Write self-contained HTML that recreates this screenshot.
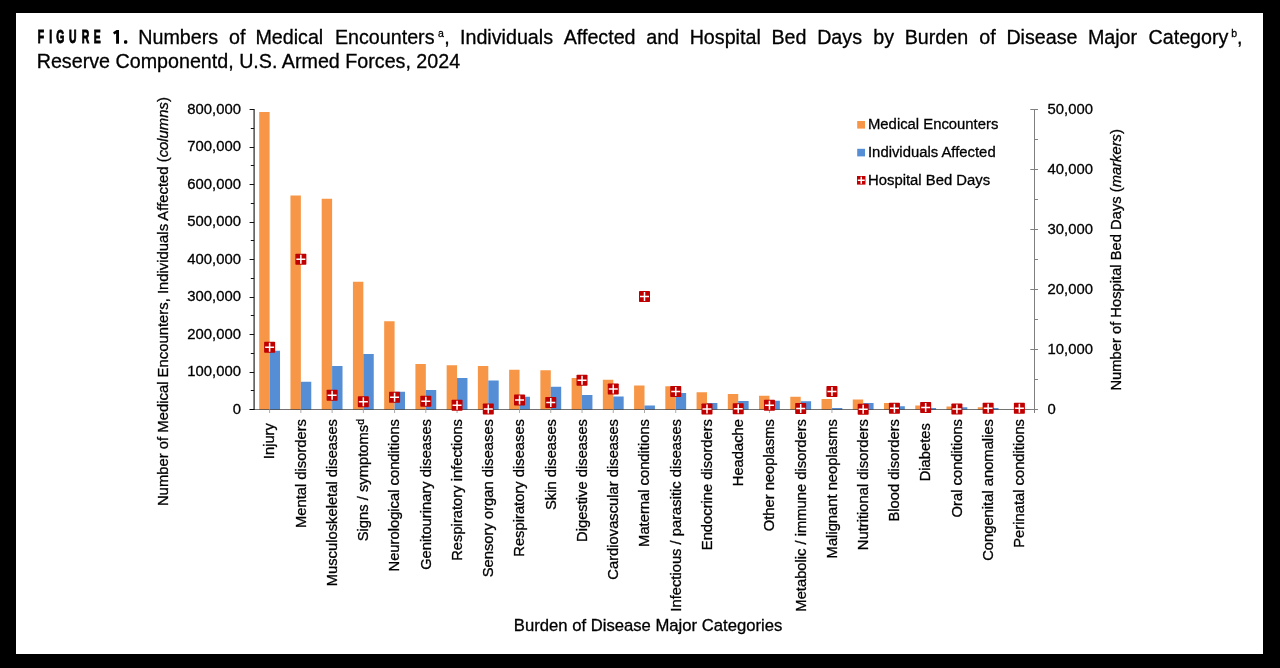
<!DOCTYPE html>
<html><head><meta charset="utf-8"><style>
html,body{margin:0;padding:0;}
body{width:1280px;height:668px;background:#000;position:relative;overflow:hidden;font-family:"Liberation Sans",sans-serif;}
#paper{position:absolute;left:16px;top:13px;width:1247px;height:641px;background:#fff;}
svg{position:absolute;left:0;top:0;will-change:transform;}
svg text{font-family:"Liberation Sans",sans-serif;fill:#000;stroke:#000;stroke-width:0.3px;}
.t{font-size:14.85px;}
.tt{font-size:19.7px;}
.sup{font-size:10.5px;}
.fig{font-size:18.2px;font-weight:bold;stroke:#000;stroke-width:1px;}
</style></head><body>
<div id="paper"></div>
<svg width="1280" height="668" viewBox="0 0 1280 668">
<text x='138.3' y='43.75' class='tt'>Numbers</text>
<text x='229.0' y='43.75' class='tt'>of</text>
<text x='255.4' y='43.75' class='tt'>Medical</text>
<text x='334.9' y='43.75' class='tt'>Encounters</text>
<text x='460.0' y='43.75' class='tt'>Individuals</text>
<text x='563.7' y='43.75' class='tt'>Affected</text>
<text x='646.2' y='43.75' class='tt'>and</text>
<text x='689.65' y='43.75' class='tt'>Hospital</text>
<text x='771.4' y='43.75' class='tt'>Bed</text>
<text x='817.15' y='43.75' class='tt'>Days</text>
<text x='873.2' y='43.75' class='tt'>by</text>
<text x='904.65' y='43.75' class='tt'>Burden</text>
<text x='979.2' y='43.75' class='tt'>of</text>
<text x='1006.4' y='43.75' class='tt'>Disease</text>
<text x='1087.9' y='43.75' class='tt'>Major</text>
<text x='1148.5' y='43.75' class='tt'>Category</text>
<text x='438' y='36.8' class='sup'>a</text>
<text x='444.2' y='43.75' class='tt'>,</text>
<text x='1231.2' y='36.9' class='sup'>b</text>
<text x='1237' y='43.75' class='tt'>,</text>
<text x='36.7' y='67.8' class='tt'>Reserve Componentd, U.S. Armed Forces, 2024</text>
<text transform='translate(37.70,43.25) scale(0.57,1)' class='fig'>F</text>
<text transform='translate(49.20,43.25) scale(0.57,1)' class='fig'>I</text>
<text transform='translate(56.37,43.25) scale(0.57,1)' class='fig'>G</text>
<text transform='translate(68.88,43.25) scale(0.57,1)' class='fig'>U</text>
<text transform='translate(81.80,43.25) scale(0.57,1)' class='fig'>R</text>
<text transform='translate(93.80,43.25) scale(0.57,1)' class='fig'>E</text>
<path d='M113.1 32.3L116.6 30.1H119V43.75H116.1V33.4L114.1 34.5Z' fill='#000'/>
<rect x='124' y='40.3' width='3.3' height='3.45' rx='1.2' fill='#000'/>
<rect x='259.21' y='112' width='10.41' height='297.5' fill='#F79646'/>
<rect x='269.62' y='350.75' width='10.41' height='58.75' fill='#558ED5'/>
<rect x='290.45' y='195.5' width='10.41' height='214' fill='#F79646'/>
<rect x='300.86' y='381.75' width='10.41' height='27.75' fill='#558ED5'/>
<rect x='321.69' y='198.75' width='10.41' height='210.75' fill='#F79646'/>
<rect x='332.1' y='366' width='10.41' height='43.5' fill='#558ED5'/>
<rect x='352.93' y='281.75' width='10.41' height='127.75' fill='#F79646'/>
<rect x='363.34' y='354' width='10.41' height='55.5' fill='#558ED5'/>
<rect x='384.17' y='321.25' width='10.41' height='88.25' fill='#F79646'/>
<rect x='394.58' y='391.75' width='10.41' height='17.75' fill='#558ED5'/>
<rect x='415.41' y='364' width='10.41' height='45.5' fill='#F79646'/>
<rect x='425.82' y='390' width='10.41' height='19.5' fill='#558ED5'/>
<rect x='446.65' y='365.25' width='10.41' height='44.25' fill='#F79646'/>
<rect x='457.06' y='378' width='10.41' height='31.5' fill='#558ED5'/>
<rect x='477.89' y='366' width='10.41' height='43.5' fill='#F79646'/>
<rect x='488.3' y='380.5' width='10.41' height='29' fill='#558ED5'/>
<rect x='509.13' y='369.75' width='10.41' height='39.75' fill='#F79646'/>
<rect x='519.54' y='396.75' width='10.41' height='12.75' fill='#558ED5'/>
<rect x='540.37' y='370.25' width='10.41' height='39.25' fill='#F79646'/>
<rect x='550.78' y='386.75' width='10.41' height='22.75' fill='#558ED5'/>
<rect x='571.61' y='378' width='10.41' height='31.5' fill='#F79646'/>
<rect x='582.02' y='395' width='10.41' height='14.5' fill='#558ED5'/>
<rect x='602.85' y='379.75' width='10.41' height='29.75' fill='#F79646'/>
<rect x='613.26' y='396.5' width='10.41' height='13' fill='#558ED5'/>
<rect x='634.09' y='385.5' width='10.41' height='24' fill='#F79646'/>
<rect x='644.5' y='405.5' width='10.41' height='4' fill='#558ED5'/>
<rect x='665.33' y='386.25' width='10.41' height='23.25' fill='#F79646'/>
<rect x='675.74' y='393' width='10.41' height='16.5' fill='#558ED5'/>
<rect x='696.57' y='392.25' width='10.41' height='17.25' fill='#F79646'/>
<rect x='706.98' y='403' width='10.41' height='6.5' fill='#558ED5'/>
<rect x='727.81' y='394' width='10.41' height='15.5' fill='#F79646'/>
<rect x='738.22' y='401' width='10.41' height='8.5' fill='#558ED5'/>
<rect x='759.05' y='395.75' width='10.41' height='13.75' fill='#F79646'/>
<rect x='769.46' y='400.75' width='10.41' height='8.75' fill='#558ED5'/>
<rect x='790.29' y='396.75' width='10.41' height='12.75' fill='#F79646'/>
<rect x='800.7' y='401.25' width='10.41' height='8.25' fill='#558ED5'/>
<rect x='821.53' y='399' width='10.41' height='10.5' fill='#F79646'/>
<rect x='831.94' y='408' width='10.41' height='1.5' fill='#558ED5'/>
<rect x='852.77' y='399.5' width='10.41' height='10' fill='#F79646'/>
<rect x='863.18' y='403' width='10.41' height='6.5' fill='#558ED5'/>
<rect x='884.01' y='403' width='10.41' height='6.5' fill='#F79646'/>
<rect x='894.42' y='406.25' width='10.41' height='3.25' fill='#558ED5'/>
<rect x='915.25' y='405.5' width='10.41' height='4' fill='#F79646'/>
<rect x='925.66' y='408' width='10.41' height='1.5' fill='#558ED5'/>
<rect x='946.49' y='406.5' width='10.41' height='3' fill='#F79646'/>
<rect x='956.9' y='407.25' width='10.41' height='2.25' fill='#558ED5'/>
<rect x='977.73' y='407.25' width='10.41' height='2.25' fill='#F79646'/>
<rect x='988.14' y='408' width='10.41' height='1.5' fill='#558ED5'/>
<line x1='254.1' y1='109' x2='254.1' y2='410' stroke='#333333' stroke-width='1.3'/>
<line x1='249.6' y1='109.5' x2='254.1' y2='109.5' stroke='#111' stroke-width='1'/>
<line x1='250.8' y1='128.5' x2='254.1' y2='128.5' stroke='#111' stroke-width='1'/>
<line x1='249.6' y1='147.5' x2='254.1' y2='147.5' stroke='#111' stroke-width='1'/>
<line x1='250.8' y1='165.5' x2='254.1' y2='165.5' stroke='#111' stroke-width='1'/>
<line x1='249.6' y1='184.5' x2='254.1' y2='184.5' stroke='#111' stroke-width='1'/>
<line x1='250.8' y1='203.5' x2='254.1' y2='203.5' stroke='#111' stroke-width='1'/>
<line x1='249.6' y1='222.5' x2='254.1' y2='222.5' stroke='#111' stroke-width='1'/>
<line x1='250.8' y1='240.5' x2='254.1' y2='240.5' stroke='#111' stroke-width='1'/>
<line x1='249.6' y1='259.5' x2='254.1' y2='259.5' stroke='#111' stroke-width='1'/>
<line x1='250.8' y1='278.5' x2='254.1' y2='278.5' stroke='#111' stroke-width='1'/>
<line x1='249.6' y1='297.5' x2='254.1' y2='297.5' stroke='#111' stroke-width='1'/>
<line x1='250.8' y1='315.5' x2='254.1' y2='315.5' stroke='#111' stroke-width='1'/>
<line x1='249.6' y1='334.5' x2='254.1' y2='334.5' stroke='#111' stroke-width='1'/>
<line x1='250.8' y1='353.5' x2='254.1' y2='353.5' stroke='#111' stroke-width='1'/>
<line x1='249.6' y1='372.5' x2='254.1' y2='372.5' stroke='#111' stroke-width='1'/>
<line x1='250.8' y1='390.5' x2='254.1' y2='390.5' stroke='#111' stroke-width='1'/>
<line x1='249.6' y1='409.5' x2='254.1' y2='409.5' stroke='#111' stroke-width='1'/>
<line x1='249.6' y1='409.5' x2='1034' y2='409.5' stroke='rgba(0,0,0,0.55)' stroke-width='1'/>
<line x1='269.62' y1='409.5' x2='269.62' y2='413' stroke='#aaa' stroke-width='1'/>
<line x1='300.86' y1='409.5' x2='300.86' y2='413' stroke='#aaa' stroke-width='1'/>
<line x1='332.1' y1='409.5' x2='332.1' y2='413' stroke='#aaa' stroke-width='1'/>
<line x1='363.34' y1='409.5' x2='363.34' y2='413' stroke='#aaa' stroke-width='1'/>
<line x1='394.58' y1='409.5' x2='394.58' y2='413' stroke='#aaa' stroke-width='1'/>
<line x1='425.82' y1='409.5' x2='425.82' y2='413' stroke='#aaa' stroke-width='1'/>
<line x1='457.06' y1='409.5' x2='457.06' y2='413' stroke='#aaa' stroke-width='1'/>
<line x1='488.3' y1='409.5' x2='488.3' y2='413' stroke='#aaa' stroke-width='1'/>
<line x1='519.54' y1='409.5' x2='519.54' y2='413' stroke='#aaa' stroke-width='1'/>
<line x1='550.78' y1='409.5' x2='550.78' y2='413' stroke='#aaa' stroke-width='1'/>
<line x1='582.02' y1='409.5' x2='582.02' y2='413' stroke='#aaa' stroke-width='1'/>
<line x1='613.26' y1='409.5' x2='613.26' y2='413' stroke='#aaa' stroke-width='1'/>
<line x1='644.5' y1='409.5' x2='644.5' y2='413' stroke='#aaa' stroke-width='1'/>
<line x1='675.74' y1='409.5' x2='675.74' y2='413' stroke='#aaa' stroke-width='1'/>
<line x1='706.98' y1='409.5' x2='706.98' y2='413' stroke='#aaa' stroke-width='1'/>
<line x1='738.22' y1='409.5' x2='738.22' y2='413' stroke='#aaa' stroke-width='1'/>
<line x1='769.46' y1='409.5' x2='769.46' y2='413' stroke='#aaa' stroke-width='1'/>
<line x1='800.7' y1='409.5' x2='800.7' y2='413' stroke='#aaa' stroke-width='1'/>
<line x1='831.94' y1='409.5' x2='831.94' y2='413' stroke='#aaa' stroke-width='1'/>
<line x1='863.18' y1='409.5' x2='863.18' y2='413' stroke='#aaa' stroke-width='1'/>
<line x1='894.42' y1='409.5' x2='894.42' y2='413' stroke='#aaa' stroke-width='1'/>
<line x1='925.66' y1='409.5' x2='925.66' y2='413' stroke='#aaa' stroke-width='1'/>
<line x1='956.9' y1='409.5' x2='956.9' y2='413' stroke='#aaa' stroke-width='1'/>
<line x1='988.14' y1='409.5' x2='988.14' y2='413' stroke='#aaa' stroke-width='1'/>
<line x1='1019.38' y1='409.5' x2='1019.38' y2='413' stroke='#aaa' stroke-width='1'/>
<line x1='1034.5' y1='109' x2='1034.5' y2='413' stroke='#808080' stroke-width='1'/>
<line x1='1030.3' y1='109.5' x2='1038' y2='109.5' stroke='#808080' stroke-width='1'/>
<line x1='1034.5' y1='139.5' x2='1038' y2='139.5' stroke='#808080' stroke-width='1'/>
<line x1='1030.3' y1='169.5' x2='1038' y2='169.5' stroke='#808080' stroke-width='1'/>
<line x1='1034.5' y1='199.5' x2='1038' y2='199.5' stroke='#808080' stroke-width='1'/>
<line x1='1030.3' y1='229.5' x2='1038' y2='229.5' stroke='#808080' stroke-width='1'/>
<line x1='1034.5' y1='259.5' x2='1038' y2='259.5' stroke='#808080' stroke-width='1'/>
<line x1='1030.3' y1='289.5' x2='1038' y2='289.5' stroke='#808080' stroke-width='1'/>
<line x1='1034.5' y1='319.5' x2='1038' y2='319.5' stroke='#808080' stroke-width='1'/>
<line x1='1030.3' y1='349.5' x2='1038' y2='349.5' stroke='#808080' stroke-width='1'/>
<line x1='1034.5' y1='379.5' x2='1038' y2='379.5' stroke='#808080' stroke-width='1'/>
<line x1='1030.3' y1='409.5' x2='1038' y2='409.5' stroke='#808080' stroke-width='1'/>
<rect x='264.12' y='341.75' width='11' height='11' rx='0.7' fill='#C00000'/><path d='M265.12 347.25H274.12M269.62 342.75V351.75' stroke='#fff' stroke-width='1.5'/>
<rect x='295.36' y='253.75' width='11' height='11' rx='0.7' fill='#C00000'/><path d='M296.36 259.25H305.36M300.86 254.75V263.75' stroke='#fff' stroke-width='1.5'/>
<rect x='326.6' y='389.75' width='11' height='11' rx='0.7' fill='#C00000'/><path d='M327.6 395.25H336.6M332.1 390.75V399.75' stroke='#fff' stroke-width='1.5'/>
<rect x='357.84' y='396.25' width='11' height='11' rx='0.7' fill='#C00000'/><path d='M358.84 401.75H367.84M363.34 397.25V406.25' stroke='#fff' stroke-width='1.5'/>
<rect x='389.08' y='391.75' width='11' height='11' rx='0.7' fill='#C00000'/><path d='M390.08 397.25H399.08M394.58 392.75V401.75' stroke='#fff' stroke-width='1.5'/>
<rect x='420.32' y='395.75' width='11' height='11' rx='0.7' fill='#C00000'/><path d='M421.32 401.25H430.32M425.82 396.75V405.75' stroke='#fff' stroke-width='1.5'/>
<rect x='451.56' y='399.75' width='11' height='11' rx='0.7' fill='#C00000'/><path d='M452.56 405.25H461.56M457.06 400.75V409.75' stroke='#fff' stroke-width='1.5'/>
<rect x='482.8' y='403.5' width='11' height='11' rx='0.7' fill='#C00000'/><path d='M483.8 409H492.8M488.3 404.5V413.5' stroke='#fff' stroke-width='1.5'/>
<rect x='514.04' y='394.5' width='11' height='11' rx='0.7' fill='#C00000'/><path d='M515.04 400H524.04M519.54 395.5V404.5' stroke='#fff' stroke-width='1.5'/>
<rect x='545.28' y='397' width='11' height='11' rx='0.7' fill='#C00000'/><path d='M546.28 402.5H555.28M550.78 398V407' stroke='#fff' stroke-width='1.5'/>
<rect x='576.52' y='374.75' width='11' height='11' rx='0.7' fill='#C00000'/><path d='M577.52 380.25H586.52M582.02 375.75V384.75' stroke='#fff' stroke-width='1.5'/>
<rect x='607.76' y='383.5' width='11' height='11' rx='0.7' fill='#C00000'/><path d='M608.76 389H617.76M613.26 384.5V393.5' stroke='#fff' stroke-width='1.5'/>
<rect x='639' y='291' width='11' height='11' rx='0.7' fill='#C00000'/><path d='M640 296.5H649M644.5 292V301' stroke='#fff' stroke-width='1.5'/>
<rect x='670.24' y='386' width='11' height='11' rx='0.7' fill='#C00000'/><path d='M671.24 391.5H680.24M675.74 387V396' stroke='#fff' stroke-width='1.5'/>
<rect x='701.48' y='403.5' width='11' height='11' rx='0.7' fill='#C00000'/><path d='M702.48 409H711.48M706.98 404.5V413.5' stroke='#fff' stroke-width='1.5'/>
<rect x='732.72' y='403.25' width='11' height='11' rx='0.7' fill='#C00000'/><path d='M733.72 408.75H742.72M738.22 404.25V413.25' stroke='#fff' stroke-width='1.5'/>
<rect x='763.96' y='399.75' width='11' height='11' rx='0.7' fill='#C00000'/><path d='M764.96 405.25H773.96M769.46 400.75V409.75' stroke='#fff' stroke-width='1.5'/>
<rect x='795.2' y='403' width='11' height='11' rx='0.7' fill='#C00000'/><path d='M796.2 408.5H805.2M800.7 404V413' stroke='#fff' stroke-width='1.5'/>
<rect x='826.44' y='386' width='11' height='11' rx='0.7' fill='#C00000'/><path d='M827.44 391.5H836.44M831.94 387V396' stroke='#fff' stroke-width='1.5'/>
<rect x='857.68' y='403.75' width='11' height='11' rx='0.7' fill='#C00000'/><path d='M858.68 409.25H867.68M863.18 404.75V413.75' stroke='#fff' stroke-width='1.5'/>
<rect x='888.92' y='402.75' width='11' height='11' rx='0.7' fill='#C00000'/><path d='M889.92 408.25H898.92M894.42 403.75V412.75' stroke='#fff' stroke-width='1.5'/>
<rect x='920.16' y='402' width='11' height='11' rx='0.7' fill='#C00000'/><path d='M921.16 407.5H930.16M925.66 403V412' stroke='#fff' stroke-width='1.5'/>
<rect x='951.4' y='403.5' width='11' height='11' rx='0.7' fill='#C00000'/><path d='M952.4 409H961.4M956.9 404.5V413.5' stroke='#fff' stroke-width='1.5'/>
<rect x='982.64' y='402.75' width='11' height='11' rx='0.7' fill='#C00000'/><path d='M983.64 408.25H992.64M988.14 403.75V412.75' stroke='#fff' stroke-width='1.5'/>
<rect x='1013.88' y='402.75' width='11' height='11' rx='0.7' fill='#C00000'/><path d='M1014.88 408.25H1023.88M1019.38 403.75V412.75' stroke='#fff' stroke-width='1.5'/>
<text x='241' y='113.5' text-anchor='end' class='t'>800,000</text>
<text x='241' y='151' text-anchor='end' class='t'>700,000</text>
<text x='241' y='188.5' text-anchor='end' class='t'>600,000</text>
<text x='241' y='226' text-anchor='end' class='t'>500,000</text>
<text x='241' y='263.5' text-anchor='end' class='t'>400,000</text>
<text x='241' y='301' text-anchor='end' class='t'>300,000</text>
<text x='241' y='338.5' text-anchor='end' class='t'>200,000</text>
<text x='241' y='376' text-anchor='end' class='t'>100,000</text>
<text x='241' y='413.5' text-anchor='end' class='t'>0</text>
<text x='1047.5' y='113.8' class='t'>50,000</text>
<text x='1047.5' y='173.8' class='t'>40,000</text>
<text x='1047.5' y='233.8' class='t'>30,000</text>
<text x='1047.5' y='293.8' class='t'>20,000</text>
<text x='1047.5' y='353.8' class='t'>10,000</text>
<text x='1047.5' y='413.8' class='t'>0</text>
<text transform='translate(274.42,419) rotate(-90)' text-anchor='end' class='t' style='font-size:14.75px'>Injury </text>
<text transform='translate(305.66,419) rotate(-90)' text-anchor='end' class='t' style='font-size:14.75px'>Mental disorders</text>
<text transform='translate(336.9,419) rotate(-90)' text-anchor='end' class='t' style='font-size:14.75px'>Musculoskeletal diseases</text>
<text transform='translate(368.14,419) rotate(-90)' text-anchor='end' class='t' style='font-size:14.75px'>Signs / symptoms<tspan font-size='10.5' dy='-4'>d</tspan></text>
<text transform='translate(399.38,419) rotate(-90)' text-anchor='end' class='t' style='font-size:14.75px'>Neurological conditions</text>
<text transform='translate(430.62,419) rotate(-90)' text-anchor='end' class='t' style='font-size:14.75px'>Genitourinary diseases</text>
<text transform='translate(461.86,419) rotate(-90)' text-anchor='end' class='t' style='font-size:14.75px'>Respiratory infections</text>
<text transform='translate(493.1,419) rotate(-90)' text-anchor='end' class='t' style='font-size:14.75px'>Sensory organ diseases</text>
<text transform='translate(524.34,419) rotate(-90)' text-anchor='end' class='t' style='font-size:14.75px'>Respiratory diseases</text>
<text transform='translate(555.58,419) rotate(-90)' text-anchor='end' class='t' style='font-size:14.75px'>Skin diseases</text>
<text transform='translate(586.82,419) rotate(-90)' text-anchor='end' class='t' style='font-size:14.75px'>Digestive diseases</text>
<text transform='translate(618.06,419) rotate(-90)' text-anchor='end' class='t' style='font-size:14.75px'>Cardiovascular diseases</text>
<text transform='translate(649.3,419) rotate(-90)' text-anchor='end' class='t' style='font-size:14.75px'>Maternal conditions</text>
<text transform='translate(680.54,419) rotate(-90)' text-anchor='end' class='t' style='font-size:14.75px'>Infectious / parasitic diseases</text>
<text transform='translate(711.78,419) rotate(-90)' text-anchor='end' class='t' style='font-size:14.75px'>Endocrine disorders</text>
<text transform='translate(743.02,419) rotate(-90)' text-anchor='end' class='t' style='font-size:14.75px'>Headache</text>
<text transform='translate(774.26,419) rotate(-90)' text-anchor='end' class='t' style='font-size:14.75px'>Other neoplasms</text>
<text transform='translate(805.5,419) rotate(-90)' text-anchor='end' class='t' style='font-size:14.75px'>Metabolic / immune disorders</text>
<text transform='translate(836.74,419) rotate(-90)' text-anchor='end' class='t' style='font-size:14.75px'>Malignant neoplasms</text>
<text transform='translate(867.98,419) rotate(-90)' text-anchor='end' class='t' style='font-size:14.75px'>Nutritional disorders</text>
<text transform='translate(899.22,419) rotate(-90)' text-anchor='end' class='t' style='font-size:14.75px'>Blood disorders</text>
<text transform='translate(930.46,419) rotate(-90)' text-anchor='end' class='t' style='font-size:14.75px'>Diabetes </text>
<text transform='translate(961.7,419) rotate(-90)' text-anchor='end' class='t' style='font-size:14.75px'>Oral conditions</text>
<text transform='translate(992.94,419) rotate(-90)' text-anchor='end' class='t' style='font-size:14.75px'>Congenital anomalies</text>
<text transform='translate(1024.18,419) rotate(-90)' text-anchor='end' class='t' style='font-size:14.75px'>Perinatal conditions</text>
<text transform='translate(167.5,506.1) rotate(-90)' class='t'>Number of Medical Encounters, Individuals Affected (<tspan font-style='italic'>columns</tspan>)</text>
<text transform='translate(1120.8,390.6) rotate(-90)' style='font-size:14.75px'>Number of Hospital Bed Days (<tspan font-style='italic'>markers</tspan>)</text>
<text x='513.8' y='631' style='font-size:16.67px'>Burden of Disease Major Categories</text>
<rect x='857.2' y='121' width='7.8' height='7.6' fill='#F79646'/>
<text x='868' y='128.6' class='t'>Medical Encounters</text>
<rect x='857.2' y='148.8' width='7.8' height='7.6' fill='#558ED5'/>
<text x='868' y='156.6' class='t'>Individuals Affected</text>
<rect x='857' y='176' width='8.5' height='8.6' fill='#C00000'/>
<path d='M857.8 180.3H864.7M861.25 176.8V183.8' stroke='#fff' stroke-width='1.5'/>
<text x='868' y='184.8' class='t'>Hospital Bed Days</text>
</svg>
</body></html>
